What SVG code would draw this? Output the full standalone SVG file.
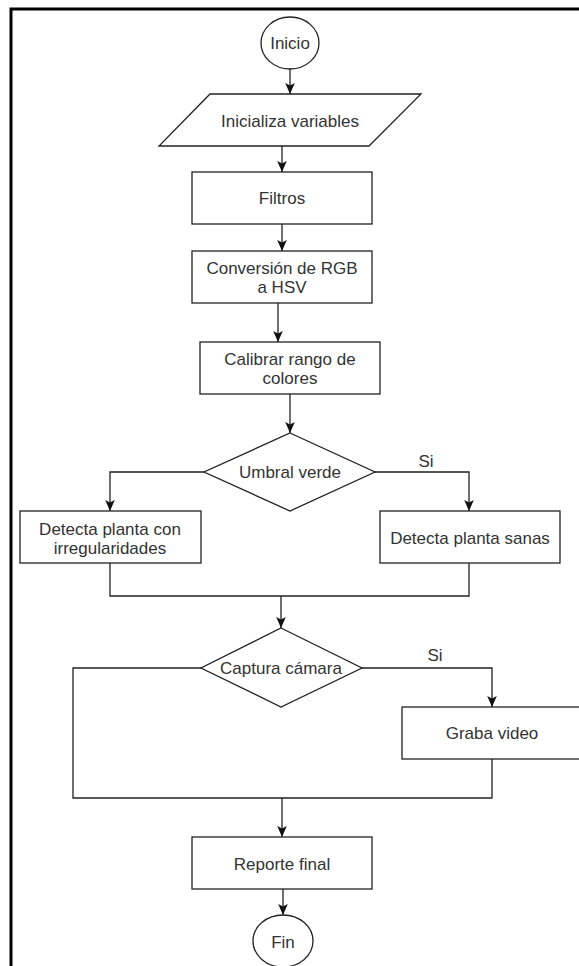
<svg xmlns="http://www.w3.org/2000/svg" width="579" height="966" viewBox="0 0 579 966">
<style>
.s{fill:#fff;stroke:#222;stroke-width:1.3}
.c{fill:none;stroke:#222;stroke-width:1.3}
text{font-family:"Liberation Sans",Arial,sans-serif;font-size:17px;fill:#333;text-anchor:middle;dominant-baseline:central}
</style>
<defs>
<marker id="ah" markerUnits="userSpaceOnUse" markerWidth="12" markerHeight="12" viewBox="0 0 12 12" refX="11" refY="6" orient="auto">
<path d="M0,1.2 L11,6 L0,10.8 L2.5,6 Z" fill="#111"/>
</marker>
</defs>
<rect width="579" height="966" fill="#fff"/>
<path d="M11,966 V9 H579" fill="none" stroke="#000" stroke-width="3"/>
<g id="connectors">
<path class="c" d="M290,69 V94" marker-end="url(#ah)"/>
<path class="c" d="M282,146 V172" marker-end="url(#ah)"/>
<path class="c" d="M282,224 V251" marker-end="url(#ah)"/>
<path class="c" d="M278,303 V342" marker-end="url(#ah)"/>
<path class="c" d="M290,394 V433" marker-end="url(#ah)"/>
<path class="c" d="M204,472 H110 V511" marker-end="url(#ah)"/>
<path class="c" d="M375,472 H469 V511" marker-end="url(#ah)"/>
<path class="c" d="M110,563 V596 H469 V563"/>
<path class="c" d="M281,596 V628" marker-end="url(#ah)"/>
<path class="c" d="M362,668 H492 V707" marker-end="url(#ah)"/>
<path class="c" d="M201,668 H73 V798 H492 V759"/>
<path class="c" d="M282,798 V837" marker-end="url(#ah)"/>
<path class="c" d="M283,889 V915" marker-end="url(#ah)"/>
<text x="426" y="461">Si</text>
<text x="435" y="655">Si</text>
</g>
<g id="inicio">
<ellipse class="s" cx="290" cy="43" rx="29" ry="26"/>
<text x="290" y="43">Inicio</text>
</g>
<g id="inicializa">
<polygon class="s" points="210,94 421,94 369,146 159,146"/>
<text x="290" y="121">Inicializa variables</text>
</g>
<g id="filtros">
<rect class="s" x="192" y="172" width="180" height="52"/>
<text x="282" y="198">Filtros</text>
</g>
<g id="conversion">
<rect class="s" x="192" y="251" width="180" height="52"/>
<text x="282" y="268">Conversión de RGB</text>
<text x="282" y="287">a HSV</text>
</g>
<g id="calibrar">
<rect class="s" x="200" y="342" width="180" height="52"/>
<text x="290" y="359">Calibrar rango de</text>
<text x="290" y="378">colores</text>
</g>
<g id="umbral">
<polygon class="s" points="290,433 375,472 290,511 204,472"/>
<text x="290" y="472">Umbral verde</text>
</g>
<g id="irregulares">
<rect class="s" x="20" y="511" width="181" height="52"/>
<text x="110" y="529">Detecta planta con</text>
<text x="110" y="548">irregularidades</text>
</g>
<g id="sanas">
<rect class="s" x="380" y="511" width="180" height="52"/>
<text x="470" y="538">Detecta planta sanas</text>
</g>
<g id="captura">
<polygon class="s" points="281,628 362,668 281,707 201,668"/>
<text x="281" y="668">Captura cámara</text>
</g>
<g id="graba">
<rect class="s" x="402" y="707" width="182" height="52"/>
<text x="492" y="733">Graba video</text>
</g>
<g id="reporte">
<rect class="s" x="192" y="837" width="180" height="52"/>
<text x="282" y="864">Reporte final</text>
</g>
<g id="fin">
<ellipse class="s" cx="283" cy="941" rx="30" ry="26"/>
<text x="283" y="942">Fin</text>
</g>
</svg>
